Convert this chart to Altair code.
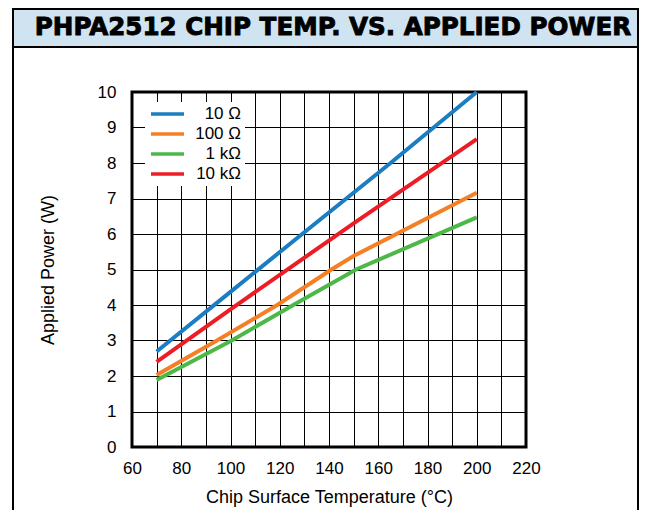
import altair as alt
import pandas as pd

chart_title = "PHPA2512 CHIP TEMP. VS. APPLIED POWER"
x_title = "Chip Surface Temperature (°C)"
y_title = "Applied Power (W)"

series_names = ["10 Ω", "100 Ω", "1 kΩ", "10 kΩ"]
series_colors = ["#1b7dc2", "#f47f24", "#4db848", "#ec1d25"]

temp_10 = [70, 100, 130, 165, 200]
power_10 = [2.69, 4.37, 6.05, 8.0, 10.0]
temp_100 = [70, 94.5, 119, 141, 150, 200]
power_100 = [2.03, 3.0, 4.0, 5.0, 5.38, 7.16]
temp_1k = [70, 100.5, 125.5, 151, 200]
power_1k = [1.89, 3.0, 4.0, 5.0, 6.47]
temp_10k = [70, 100, 150, 200]
power_10k = [2.40, 3.88, 6.3, 8.67]

x_ticks = [60, 70, 80, 90, 100, 110, 120, 130, 140, 150, 160, 170, 180, 190, 200, 210, 220]
y_ticks = [0, 1, 2, 3, 4, 5, 6, 7, 8, 9, 10]

rows = []
for name, ts, ps in zip(series_names,
                        [temp_10, temp_100, temp_1k, temp_10k],
                        [power_10, power_100, power_1k, power_10k]):
    for i, (t, p) in enumerate(zip(ts, ps)):
        rows.append({"series": name, "temp": t, "power": p, "idx": i})
df = pd.DataFrame(rows)

dummy = pd.DataFrame({"d": [0]})
FONT = "Liberation Sans"

banner = alt.Chart(dummy).mark_rect(fill="#cfe3f1", stroke="black", strokeWidth=2).encode(
    x=alt.value(-119), x2=alt.value(506), y=alt.value(-83), y2=alt.value(-45)
)
banner_text = alt.Chart(dummy).mark_text(
    text=chart_title, font="DejaVu Sans", fontWeight="bold", fontSize=24.6,
    align="center", baseline="middle", color="black", stroke="black", strokeWidth=0.9
).encode(x=alt.value(201), y=alt.value(-64))
frame_left = alt.Chart(dummy).mark_rule(color="black", strokeWidth=2).encode(
    x=alt.value(-119), y=alt.value(-83), y2=alt.value(418)
)
frame_right = alt.Chart(dummy).mark_rule(color="black", strokeWidth=2).encode(
    x=alt.value(506), y=alt.value(-83), y2=alt.value(418)
)

lines = alt.Chart(df).mark_line(strokeWidth=4, strokeCap="butt").encode(
    x=alt.X("temp:Q", scale=alt.Scale(domain=[60, 220], nice=False, zero=False),
            axis=alt.Axis(values=x_ticks, title=x_title,
                          labelExpr="datum.value % 20 == 0 ? datum.label : ''",
                          labelFlush=False, labelPadding=13, titlePadding=12)),
    y=alt.Y("power:Q", scale=alt.Scale(domain=[0, 10], nice=False),
            axis=alt.Axis(values=y_ticks, title=y_title, labelPadding=16,
                          labelFlush=False, titlePadding=40)),
    color=alt.Color("series:N",
                    scale=alt.Scale(domain=series_names, range=series_colors),
                    legend=alt.Legend(title=None, orient="none", legendX=13, legendY=10,
                                      fillColor="white", padding=4,
                                      symbolType="stroke", symbolSize=1089,
                                      symbolStrokeWidth=3.5, clipHeight=16, rowPadding=3,
                                      labelFontSize=17, labelFont=FONT, labelColor="black",
                                      labelAlign="right", labelOffset=55)),
    order="idx:Q",
)

chart = alt.layer(banner, banner_text, frame_left, frame_right, lines).properties(
    width=394, height=355,
    padding={"left": 4, "top": 0, "right": 0, "bottom": 0},
    background="white",
).configure_view(stroke="black", strokeWidth=3).configure_axis(
    grid=True, gridColor="black", gridWidth=1, gridOpacity=1,
    domain=False, ticks=False, tickSize=0,
    labelFont=FONT, labelFontSize=17, labelColor="black", labelOverlap=False,
    titleFont=FONT, titleFontSize=18, titleColor="black", titleFontWeight="normal",
)

chart.save("out.html", embed_options={"renderer": "svg", "actions": False})
